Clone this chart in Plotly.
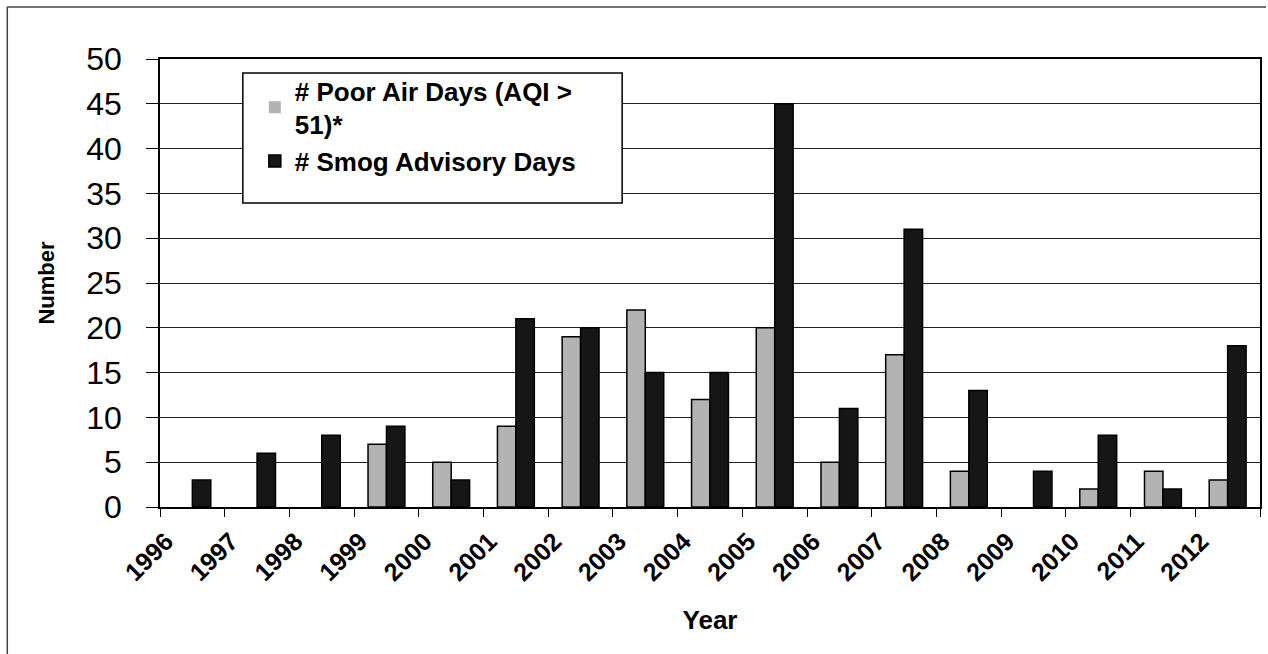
import plotly.graph_objects as go

years = ["1996", "1997", "1998", "1999", "2000", "2001", "2002", "2003", "2004",
         "2005", "2006", "2007", "2008", "2009", "2010", "2011", "2012"]
poor_air_days = [0, 0, 0, 7, 5, 9, 19, 22, 12, 20, 5, 17, 4, 0, 2, 4, 3]
smog_days = [3, 6, 8, 9, 3, 21, 20, 15, 15, 45, 11, 31, 13, 4, 8, 2, 18]

W, H = 1268, 654
L, R, T, B = 160, 6, 59, 147
pw, ph = W - L - R, H - T - B

xpos = [i + 0.5 for i in range(len(years))]


def outline(vals):
    return [1.5 if v > 0 else 0 for v in vals]


fig = go.Figure()
fig.add_trace(go.Bar(
    x=xpos, y=poor_air_days, name="# Poor Air Days (AQI ><br>51)*",
    marker=dict(color="#b3b3b3", line=dict(color="black", width=outline(poor_air_days))),
))
fig.add_trace(go.Bar(
    x=xpos, y=smog_days, name="# Smog Advisory Days",
    marker=dict(color="#161616", line=dict(color="black", width=outline(smog_days))),
))


def px_x(p):
    return (p - L) / pw


def px_y(p):
    return 1 - (p - T) / ph


shapes = [
    dict(type="line", xref="paper", yref="paper", x0=px_x(7), x1=px_x(7),
         y0=px_y(7), y1=px_y(654), line=dict(color="#444", width=1.5)),
    dict(type="line", xref="paper", yref="paper", x0=px_x(7), x1=px_x(1268),
         y0=px_y(7), y1=px_y(7), line=dict(color="#444", width=1.5)),
    dict(type="rect", xref="paper", yref="paper", x0=px_x(243), x1=px_x(623),
         y0=px_y(203), y1=px_y(73), line=dict(color="black", width=1.5),
         fillcolor="white", layer="above"),
]

fig.update_layout(
    width=W, height=H,
    margin=dict(l=L, r=R, t=T, b=B, pad=0),
    paper_bgcolor="white", plot_bgcolor="white",
    barmode="group", bargap=0.43, bargroupgap=0,
    font=dict(family="Liberation Sans, Arial", color="black"),
    showlegend=True,
    legend=dict(
        x=px_x(255), y=px_y(67), xanchor="left", yanchor="top",
        borderwidth=0, bgcolor="rgba(0,0,0,0)",
        font=dict(family="Liberation Sans, Arial", size=26, color="black", weight="bold"),
        tracegroupgap=0, itemwidth=30,
    ),
    shapes=shapes,
)

fig.update_xaxes(
    range=[0, len(years)],
    tickmode="array", tickvals=list(range(len(years) + 1)), ticktext=years + [""],
    tickangle=-45, ticks="outside", ticklen=8, tickcolor="black",
    tickfont=dict(family="Liberation Sans, Arial", size=25, weight="bold"),
    ticklabelshift=6,
    showline=True, linecolor="black", linewidth=1.5, mirror=True,
    showgrid=False, zeroline=False,
    title=dict(text="Year", font=dict(size=26, weight="bold"), standoff=26),
)
fig.update_yaxes(
    range=[0, 50], dtick=5, tick0=0,
    ticks="outside", ticklen=12, tickcolor="black",
    tickfont=dict(family="Liberation Sans, Arial", size=32),
    showline=True, linecolor="black", linewidth=1.5, mirror=True,
    showgrid=True, gridcolor="#222", gridwidth=1, zeroline=False,
    ticklabelstandoff=18,
    title=dict(text="Number", font=dict(size=22, weight="bold"), standoff=26),
)

fig.write_html("out.html", config={"displayModeBar": False},
               post_script="document.body.style.margin='0';")
